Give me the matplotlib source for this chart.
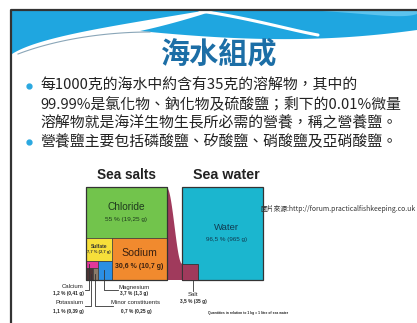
import numpy as np
import matplotlib.pyplot as plt
from matplotlib.patches import Rectangle, Polygon
from math import comb

# --------------- DATA ---------------
title = "海水組成"
bullet_lines = [
    "每1000克的海水中約含有35克的溶解物，其中的",
    "99.99%是氯化物、鈉化物及硫酸鹽；剩下的0.01%微量",
    "溶解物就是海洋生物生長所必需的營養，稱之營養鹽。",
    "營養鹽主要包括磷酸鹽、矽酸鹽、硝酸鹽及亞硝酸鹽。",
]
bullet_marks = [True, False, False, True]

salt_names = ["Chloride", "Sodium", "Sulfate", "Magnesium", "Calcium", "Potassium", "Minor constituents"]
salt_pct = [55, 30.6, 7.7, 3.7, 1.2, 1.1, 0.7]
salt_grams = ["19,25", "10,7", "2,7", "1,3", "0,41", "0,39", "0,25"]
salt_colors = ["#72c44c", "#f18a2e", "#f6df3a", "#2b8fe4", "#e2379a", "#4c3434", "#8a7a6a"]

water_pct, water_g = 96.5, 965
salt_share, salt_g = 3.5, 35

credit = "圖片來源:http://forum.practicalfishkeeping.co.uk"
footnote = "Quantities in relation to 1 kg = 1 litre of sea water"

# --------------- HELPERS ---------------
cjk = ["Noto Sans CJK TC", "DejaVu Sans"]
narrow = ["Liberation Sans Narrow", "Liberation Sans", "DejaVu Sans"]


def bez(pts, n=60):
    pts = np.array(pts, float)
    t = np.linspace(0, 1, n)[:, None]
    k = len(pts) - 1
    return sum(comb(k, i) * t ** i * (1 - t) ** (k - i) * pts[i] for i in range(k + 1))


def pct(v):
    return f"{v:g}".replace(".", ",") + " %"


# --------------- FIGURE ---------------
fig = plt.figure(figsize=(4.17, 3.23), dpi=100)
ax = fig.add_axes([0, 0, 1, 1])
ax.set_xlim(0, 417)
ax.set_ylim(323, 0)
ax.axis("off")

# header swoosh
blue = "#1fa6e0"
a_low = bez([(12, 54), (40, 36), (120, 25), (208, 10)])
ax.add_patch(Polygon(np.vstack([[(12, 10)], a_low]), color=blue, lw=0))
b_top = bez([(216, 10), (180, 22), (150, 29), (140, 31)])
b_low = bez([(140, 31), (250, 42), (330, 42), (417, 30)])
ax.add_patch(Polygon(np.vstack([b_top, b_low, [(417, 10)]]), color=blue, lw=0))
ax.add_patch(Polygon(np.vstack([bez([(300, 10), (360, 12), (400, 20), (417, 14)]), [(417, 10)]]),
                     color="#5cc3ee", lw=0))
streak = bez([(200, 11), (250, 18), (290, 30), (318, 35)])
ax.plot(streak[:, 0], streak[:, 1], color="white", lw=2.2, solid_capstyle="round")
gline = bez([(18, 54), (60, 38), (110, 32), (150, 32)])
ax.plot(gline[:, 0], gline[:, 1], color="#8aa6b8", lw=0.8)

# slide border
ax.plot([11, 11, 417], [323, 10, 10], color="#333333", lw=1.6)

ax.text(219, 53, title, family=cjk, fontsize=21, fontweight="bold", color="#1c6ea6",
        ha="center", va="center")

for i, (line, mark) in enumerate(zip(bullet_lines, bullet_marks)):
    y = 85.5 + i * 18.8
    if mark:
        ax.plot(29, y, "o", color="#2aa8e0", ms=3.5)
    ax.text(40, y, line, family=cjk, fontsize=10.7, color="#222222", va="center", ha="left")

# --------------- SEA SALTS (slice and dice from data) ---------------
x0, y0, w, h = 86, 187, 81, 93
rects = {}
hc = h * salt_pct[0] / 100
rects["Chloride"] = (x0, y0, w, hc)
ry, rh = y0 + hc, h - hc
rest = sum(salt_pct[1:])
ws = w * salt_pct[1] / rest
rects["Sodium"] = (x0 + w - ws, ry, ws, rh)
lw_ = w - ws
rest -= salt_pct[1]
hs = rh * salt_pct[2] / rest
rects["Sulfate"] = (x0, ry, lw_, hs)
ry2, rh2 = ry + hs, rh - hs
rest -= salt_pct[2]
wm = lw_ * salt_pct[3] / rest
rects["Magnesium"] = (x0 + lw_ - wm, ry2, wm, rh2)
cw = lw_ - wm
rest -= salt_pct[3]
hca = rh2 * salt_pct[4] / rest
rects["Calcium"] = (x0, ry2, cw, hca)
rest -= salt_pct[4]
wp = cw * salt_pct[5] / rest
rects["Potassium"] = (x0, ry2 + hca, wp, rh2 - hca)
rects["Minor constituents"] = (x0 + wp, ry2 + hca, cw - wp, rh2 - hca)

# water box, same size; salt square with the matching area
wx0 = 182
side = np.sqrt(salt_share / 100 * w * h)
# funnel between the two boxes
fx = np.linspace(x0 + w, wx0, 40)
fr = (fx - fx[0]) / (fx[-1] - fx[0])
fy = y0 + 1 + (y0 + h - side - y0 - 1) * (0.5 - 0.5 * np.cos(np.pi * fr))
ax.add_patch(Polygon(np.vstack([np.column_stack([fx, fy]), [(wx0, y0 + h), (x0 + w, y0 + h)]]),
                     color="#a03a5c", lw=0))

for name, col in zip(salt_names, salt_colors):
    rx, ry_, rw, rh_ = rects[name]
    ax.add_patch(Rectangle((rx, ry_), rw, rh_, facecolor=col, edgecolor="#3a3a3a", lw=0.5))
ax.add_patch(Rectangle((x0, y0), w, h, fill=False, edgecolor="#333333", lw=0.9))

ax.add_patch(Rectangle((wx0, y0), w, h, facecolor="#1bb6cf", edgecolor="#333333", lw=0.9))
ax.add_patch(Rectangle((wx0, y0 + h - side), side, side, facecolor="#a03a5c", edgecolor="#333333", lw=0.6))

ax.text(x0 + w / 2, 175, "Sea salts", family=narrow, fontsize=9.8, fontweight="bold",
        color="#222222", ha="center", va="center")
ax.text(wx0 + w / 2 + 4, 175, "Sea water", family=narrow, fontsize=10.3, fontweight="bold",
        color="#222222", ha="center", va="center")

# labels inside boxes
cx = rects["Chloride"]
ax.text(cx[0] + cx[2] / 2, 207, "Chloride", family=narrow, fontsize=7.3, color="#1e3a1e", ha="center", va="center")
ax.text(cx[0] + cx[2] / 2, 219, f"{pct(salt_pct[0])} ({salt_grams[0]} g)", family=narrow, fontsize=4.6,
        color="#1e3a1e", ha="center", va="center")
sx = rects["Sodium"]
ax.text(sx[0] + sx[2] / 2, 253, "Sodium", family=narrow, fontsize=7.6, color="#3a2010", ha="center", va="center")
ax.text(sx[0] + sx[2] / 2, 267, f"{pct(salt_pct[1])} ({salt_grams[1]} g)", family=narrow, fontsize=5.0,
        fontweight="bold", color="#3a2010", ha="center", va="center")
ux = rects["Sulfate"]
ax.text(ux[0] + ux[2] / 2, 246, "Sulfate", family=narrow, fontsize=3.5, fontweight="bold", color="#333", ha="center", va="center")
ax.text(ux[0] + ux[2] / 2, 252, f"{pct(salt_pct[2])} ({salt_grams[2]} g)", family=narrow, fontsize=3.0,
        fontweight="bold", color="#333", ha="center", va="center")
ax.text(wx0 + w / 2 + 4, 228, "Water", family=narrow, fontsize=6.8, color="#103a50", ha="center", va="center")
ax.text(wx0 + w / 2 + 4, 239, f"{pct(water_pct)} ({water_g} g)", family=narrow, fontsize=4.5,
        color="#103a50", ha="center", va="center")

# leader lines and labels under the boxes
lc = "#333333"
ca, po, mi, mg = rects["Calcium"], rects["Potassium"], rects["Minor constituents"], rects["Magnesium"]
bot = y0 + h
lx = ca[0] + 3.5
ax.plot([lx, lx, 85], [ca[1] + ca[3] / 2, 290, 290], color=lc, lw=0.6)
lx = po[0] + po[2] * 0.75
ax.plot([lx, lx, 85], [po[1] + po[3] / 2, 306, 306], color=lc, lw=0.6)
lx = mi[0] + mi[2] / 2
ax.plot([lx, lx, 113], [mi[1] + mi[3] / 2, 306, 306], color=lc, lw=0.6)
lx = mg[0] + mg[2] * 0.45
ax.plot([lx, lx, 118], [mg[1] + mg[3] / 2, 290, 290], color=lc, lw=0.6)
sxm = wx0 + side * 0.7
ax.plot([sxm, sxm], [bot, 291], color=lc, lw=0.6)

small = dict(family=narrow, color="#222222", va="center")
ax.text(84, 287, salt_names[4], fontsize=4.3, ha="right", **small)
ax.text(84, 294, f"{pct(salt_pct[4])} ({salt_grams[4]} g)", fontsize=3.4, ha="right", fontweight="bold", **small)
ax.text(84, 303, salt_names[5], fontsize=4.3, ha="right", **small)
ax.text(84, 311, f"{pct(salt_pct[5])} ({salt_grams[5]} g)", fontsize=3.4, ha="right", fontweight="bold", **small)
ax.text(134, 287, salt_names[3], fontsize=4.3, ha="center", **small)
ax.text(134, 294, f"{pct(salt_pct[3])} ({salt_grams[3]} g)", fontsize=3.4, ha="center", fontweight="bold", **small)
ax.text(136, 303, salt_names[6], fontsize=4.3, ha="center", **small)
ax.text(136, 311, f"{pct(salt_pct[6])} ({salt_grams[6]} g)", fontsize=3.4, ha="center", fontweight="bold", **small)
ax.text(193, 295, "Salt", fontsize=4.3, ha="center", **small)
ax.text(193, 302, f"{pct(salt_share)} ({salt_g} g)", fontsize=3.4, ha="center", fontweight="bold", **small)
ax.text(208, 313, footnote, fontsize=2.4, ha="left", fontweight="bold", **small)

ax.text(260, 209, credit, family=cjk, fontsize=4.9, color="#333333", ha="left", va="center", clip_on=True)

fig.savefig("out.png", dpi=100)
